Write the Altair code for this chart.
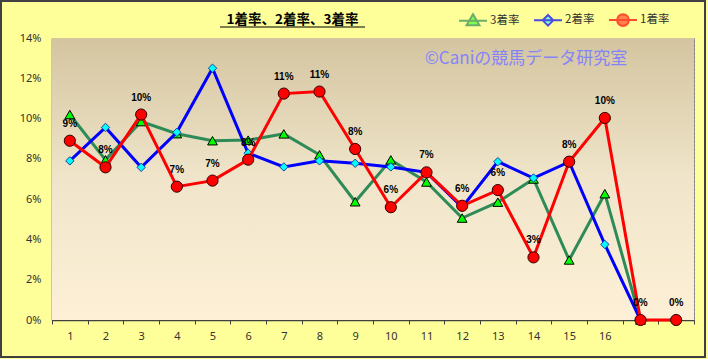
import altair as alt
import pandas as pd

categories = list(range(1, 19))
series_names = ["3着率", "2着率", "1着率"]
rate1 = [8.9, 7.58, 10.2, 6.62, 6.92, 7.96, 11.24, 11.34, 8.49, 5.6, 7.33, 5.67, 6.45, 3.11, 7.86, 10.03, 0, 0]
rate2 = [7.9, 9.56, 7.58, 9.32, 12.5, 8.28, 7.6, 7.9, 7.78, 7.6, 7.33, 5.6, 7.86, 7.05, 7.85, 3.75, 0, None]
rate3 = [10.2, 7.95, 9.85, 9.25, 8.9, 8.93, 9.24, 8.2, 5.87, 7.95, 6.85, 5.06, 5.85, 7.0, 2.98, 6.27, 0, None]
y_ticks = [0, 2, 4, 6, 8, 10, 12, 14]
chart_title = "1着率、2着率、3着率"
watermark_text = "©Caniの競馬データ研究室"

rows = []
for name, vals in zip(series_names, [rate3, rate2, rate1]):
    for c, v in zip(categories, vals):
        if v is not None:
            rows.append({"cat": c, "series": name, "v": v})
df = pd.DataFrame(rows)

W, H = 642, 282
JP = "Noto Sans CJK JP"

line_colors = ["#2E8B57", "#0000FF", "#FF0000"]
marker_fills = ["#00FF00", "#00FFFF", "#FF0000"]
legend_paths = [
    "M-1,0H1M0,-0.46L0.46,0.32L-0.46,0.32Z",
    "M-1,0H1M0,-0.38L0.38,0L0,0.38L-0.38,0Z",
    "M-1,0H1M0.42,0A0.42,0.42,0,1,1,-0.42,0A0.42,0.42,0,1,1,0.42,0Z",
]

x_enc = alt.X(
    "cat:O",
    scale=alt.Scale(type="band", paddingInner=0, paddingOuter=0, domain=categories),
    axis=alt.Axis(
        title=None, labelAngle=0, tickBand="extent", grid=True,
        gridDash=[2, 2], gridColor="#9A9A9A", gridWidth=1,
        ticks=True, tickSize=4, tickColor="#404040",
        domainColor="#404040", domainWidth=1.5,
        labelExpr="datum.value > 16 ? '' : datum.label",
        labelFont="Noto Sans", labelFontSize=11, labelColor="#333333", labelPadding=6,
    ),
)
y_enc = alt.Y(
    "v:Q",
    scale=alt.Scale(domain=[0, 14], nice=False),
    axis=alt.Axis(
        title=None, values=y_ticks, labelExpr="datum.value + '%'",
        grid=True, gridDash=[2, 2], gridColor="#9A9A9A", gridWidth=1,
        ticks=False, domainColor="#404040", domainWidth=1.5,
        labelFont="Noto Sans", labelFontSize=11, labelColor="#333333", labelPadding=11,
    ),
)

base = alt.Chart(df)
one = pd.DataFrame({"a": [0]})

bg = alt.Chart(one).mark_rect(
    color=alt.Gradient(
        gradient="linear",
        stops=[
            alt.GradientStop(color="#D4C5A0", offset=0),
            alt.GradientStop(color="#F0E5CA", offset=0.5),
            alt.GradientStop(color="#FDF0D6", offset=1),
        ],
        x1=0, x2=0, y1=0, y2=1,
    )
).encode(x=alt.value(0), x2=alt.value(W), y=alt.value(0), y2=alt.value(H))

frame = alt.Chart(one).mark_rect(
    fill=None, stroke="#404040", strokeWidth=2
).encode(x=alt.value(-51), x2=alt.value(653), y=alt.value(-37), y2=alt.value(319))

title_text = alt.Chart(pd.DataFrame({"t": [chart_title]})).mark_text(
    font=JP, fontSize=13.5, fontWeight="bold", color="#000000", align="center", baseline="middle"
).encode(text="t:N", x=alt.value(240.5), y=alt.value(-18))

underline = alt.Chart(one).mark_rule(
    color="#000000", strokeWidth=1
).encode(x=alt.value(168), x2=alt.value(313), y=alt.value(-11), y2=alt.value(-11))

watermark = alt.Chart(pd.DataFrame({"t": [watermark_text]})).mark_text(
    font=JP, fontSize=17, color="#8484F8", align="center", baseline="middle"
).encode(text="t:N", x=alt.value(474), y=alt.value(21))

layers = [bg]
markers = [("triangle-up", 95, "#000000"), ("diamond", 70, "#1A3FA0"), ("circle", 125, "#300000")]
for name, lc, mf, (shp, sz, ms) in zip(series_names, line_colors, marker_fills, markers):
    sub = base.transform_filter(alt.datum.series == name)
    layers.append(sub.mark_line(color=lc, strokeWidth=3).encode(x=x_enc, y=y_enc))
    layers.append(
        sub.mark_point(shape=shp, size=sz, filled=True, fill=mf, stroke=ms, strokeWidth=1, opacity=1)
        .encode(x=x_enc, y=y_enc)
    )

labels = base.transform_filter(alt.datum.series == "1着率").transform_calculate(
    lab="format(datum.v, '.0f') + '%'"
).mark_text(dy=-17, fontSize=10, fontWeight="bold", font="Liberation Sans", color="#000000").encode(
    x=x_enc, y=y_enc, text="lab:N"
)
layers.append(labels)

legend_layer = base.transform_filter("false").mark_point(filled=True).encode(
    x=x_enc, y=y_enc,
    shape=alt.Shape("series:N", scale=alt.Scale(domain=series_names, range=legend_paths), legend=alt.Legend(title=None)),
    fill=alt.Fill("series:N", scale=alt.Scale(domain=series_names, range=marker_fills), legend=alt.Legend(title=None)),
    stroke=alt.Stroke("series:N", scale=alt.Scale(domain=series_names, range=line_colors), legend=alt.Legend(title=None)),
)
layers.append(legend_layer)
layers += [watermark, title_text, underline, frame]

chart = alt.layer(*layers).properties(
    width=W, height=H,
    autosize=alt.AutoSizeParams(type="none"),
    padding={"left": 52, "top": 38, "right": 14, "bottom": 39},
).configure(
    background="#FFFF99",
).configure_view(
    stroke="#808080", strokeWidth=1
).configure_legend(
    orient="none", legendX=406, legendY=-33, direction="horizontal",
    symbolSize=784, symbolStrokeWidth=2, labelFont=JP, labelFontSize=11.5,
    labelColor="#333333", labelOffset=2, columnPadding=10, padding=0,
)

chart.save("out.html", embed_options={"renderer": "svg", "actions": False})
